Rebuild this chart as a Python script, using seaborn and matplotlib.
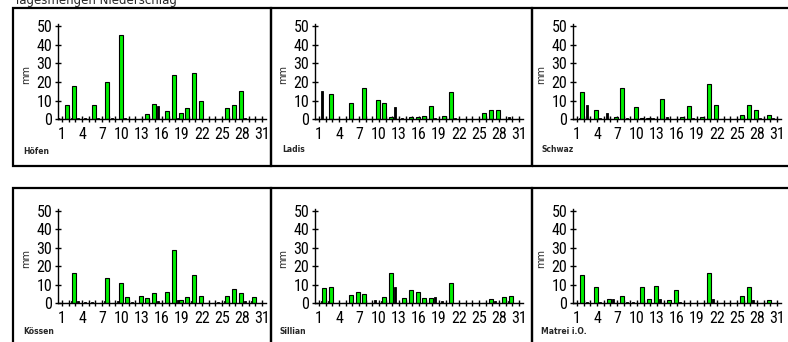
import matplotlib
matplotlib.use("Agg")
import matplotlib.pyplot as plt
import seaborn as sns
import numpy as np
import pandas as pd
from matplotlib.patches import Rectangle
from matplotlib import font_manager

# ---------------- data ----------------
days = list(range(1, 32))
day_labels = [1, 4, 7, 10, 13, 16, 19, 22, 25, 28, 31]
y_ticks = [0, 10, 20, 30, 40, 50]
title = "Tagesmengen Niederschlag"
stations = ["Höfen", "Ladis", "Schwaz", "Kössen", "Sillian", "Matrei i.O."]

hoefen_green = [0, 8, 18, 0, 0, 8, 0, 20, 0, 45, 0, 0, 0, 3, 8.5, 0, 4.5, 24, 3.6, 6, 25, 10, 0, 0, 0, 6, 7.5, 15, 0, 0, 0]
hoefen_black = [1, 0, 1, 1, 1, 0, 1, 0, 1, 0, 1, 0.5, 0.5, 0, 0, 7, 0, 0, 1, 0, 0, 0, 0, 0, 0, 0, 0, 0, 1, 0.5, 0]

ladis_green = [0, 0, 13.5, 0, 0, 8.7, 0, 17, 0, 10.5, 8.7, 1.4, 0, 0, 1.4, 1.4, 2.1, 7.3, 0, 2.1, 14.7, 0, 0, 0, 0, 3.5, 5.2, 5.2, 0, 0, 0]
ladis_black = [0, 15, 0.5, 0.5, 0, 0, 0.5, 0, 0.5, 0, 0, 0, 6.7, 1, 0, 0, 0, 0, 1, 0, 0, 1, 0, 0, 0, 0, 0, 0, 0.5, 1.5, 0.5]

schwaz_green = [0, 14.5, 0, 5, 0, 0, 1.2, 17, 0, 6.5, 1, 1, 0, 10.8, 0, 0, 1.2, 7, 0, 1.2, 19, 7.6, 0, 0, 0, 2.5, 7.6, 5, 0, 2.5, 0]
schwaz_black = [0, 1, 8, 0, 1, 3.3, 0, 0, 1, 0, 0, 1, 1, 0, 1.5, 0.5, 0, 0, 1, 0, 0, 0, 0, 0, 0, 0, 0, 0, 1, 0, 1]

koessen_green = [0, 0, 16.5, 0, 0, 0, 0, 13.8, 0, 10.6, 3.4, 0, 3.9, 2.5, 5.5, 0, 6.2, 28.7, 1.5, 3.4, 15.2, 3.9, 0, 0, 0, 3.9, 7.8, 5.5, 0, 3.4, 0]
koessen_black = [0, 0, 1, 1, 0.8, 0.8, 0, 1, 0, 1, 0, 0.5, 0, 0, 0, 1, 0, 0, 1.5, 0, 1, 0, 0, 0, 0.5, 1, 0, 0, 1, 1, 0]

sillian_green = [0, 7.9, 8.5, 0, 0, 4.3, 5.8, 5, 0, 0, 3.4, 16.2, 0, 2.7, 7, 5.8, 2.7, 2.7, 0, 0, 10.8, 0, 0, 0, 0, 0, 2.3, 0, 3.4, 4, 0]
sillian_black = [0, 1, 1, 0, 0, 0, 0, 0, 0, 1.5, 1, 0, 8.8, 0, 0, 0, 0, 0, 3.4, 1, 0, 0, 0, 0, 0, 0, 0, 1, 0, 1, 0]

matrei_green = [0, 15.2, 0, 8.9, 0, 2.1, 0, 3.8, 0, 0, 8.9, 2.3, 9.5, 0, 1.5, 7.2, 0, 0, 0, 0, 16.2, 0, 0, 0, 0, 3.8, 8.6, 0, 0, 1.5, 0]
matrei_black = [0, 0, 0.8, 0, 0.5, 0, 2.1, 0, 0.8, 0.8, 0, 0, 0, 2.3, 0, 0, 0.5, 0, 0, 0, 0, 2.3, 0, 0, 0, 0, 0, 1.5, 0, 0, 0]

greens = [hoefen_green, ladis_green, schwaz_green, koessen_green, sillian_green, matrei_green]
blacks = [hoefen_black, ladis_black, schwaz_black, koessen_black, sillian_black, matrei_black]

# ---------------- style ----------------
sns.set_style("ticks")
installed = {f.name for f in font_manager.fontManager.ttflist}
narrow_candidates = ["Liberation Sans Narrow", "DejaVu Sans Condensed", "Roboto Condensed",
                     "Open Sans Condensed", "Noto Sans Condensed"]
narrow = [n for n in narrow_candidates if n in installed]
tick_family = (narrow[:1] or []) + ["DejaVu Sans"]
tick_size = 11.5 if narrow else 8.5
plt.rcParams['font.family'] = ['DejaVu Sans']

W, H = 788, 342
fig = plt.figure(figsize=(W / 100, H / 100), dpi=100)


def fx(px):
    return px / W


def fy(py):
    return 1 - py / H


GREEN = "#00f000"
XMIN, XMAX = 0.4, 31.6
DAYPX = 6.67
YMAX = 51

col_left = [58, 315, 573]
row_zero = [119.5, 303]
row_h50 = [93.5, 92]

frames = [
    (13, 8, 258, 158), (271, 8, 261, 158), (532, 8, 258, 158),
    (13, 188, 258, 160), (271, 188, 261, 160), (532, 188, 258, 160),
]
for (x0, y0, w, h) in frames:
    fig.add_artist(Rectangle((fx(x0), fy(y0 + h)), w / W, h / H,
                             transform=fig.transFigure, fill=False,
                             lw=1.6, ec="black", zorder=0))

name_pos = [(23, 156), (282, 154), (541, 154), (23, 336), (280, 336), (541, 336)]

for i in range(6):
    r, c = divmod(i, 3)
    left = col_left[c]
    width = (XMAX - XMIN) * DAYPX
    h_px = row_h50[r] * YMAX / 50
    bottom = row_zero[r]
    ax = fig.add_axes([fx(left), fy(bottom), width / W, h_px / H])

    df_b = pd.DataFrame({"day": np.array(days) - 0.55, "mm": blacks[i]})
    df_g = pd.DataFrame({"day": np.array(days) - 0.2, "mm": greens[i]})
    sns.barplot(data=df_b, x="day", y="mm", native_scale=True, width=0.3,
                color="black", edgecolor="black", linewidth=0.6,
                errorbar=None, ax=ax, saturation=1)
    sns.barplot(data=df_g, x="day", y="mm", native_scale=True, width=0.58,
                color=GREEN, edgecolor="black", linewidth=0.8,
                errorbar=None, ax=ax, saturation=1)

    ax.set_xlim(XMIN, XMAX)
    ax.set_ylim(0, YMAX)
    ax.set_xticks(days)
    ax.set_xticklabels([str(d) if d in day_labels else "" for d in days])
    ax.set_yticks(y_ticks)
    ax.set_yticklabels([str(v) for v in y_ticks])
    ax.tick_params(axis="both", direction="inout", length=5, width=1.0,
                   labelsize=tick_size, colors="black", pad=1.5)
    ax.tick_params(axis="x", pad=3)
    for lab in ax.get_xticklabels() + ax.get_yticklabels():
        lab.set_family(tick_family)
        if not narrow:
            lab.set_fontstretch("condensed")
    ax.set_xlabel("")
    ax.set_ylabel("mm", fontsize=7)
    ax.yaxis.set_label_coords(-0.13, 0.47)
    sns.despine(ax=ax, top=True, right=True)
    for s in ("left", "bottom"):
        ax.spines[s].set_linewidth(1.0)
        ax.spines[s].set_color("black")
    ax.patch.set_alpha(0)

    nx, ny = name_pos[i]
    fig.text(fx(nx), fy(ny), stations[i], fontsize=5.5, fontweight="bold",
             va="bottom", ha="left")

fig.text(fx(14), fy(4), title, fontsize=8.5, va="baseline", ha="left")

fig.savefig("out.png", dpi=100, facecolor="white")
